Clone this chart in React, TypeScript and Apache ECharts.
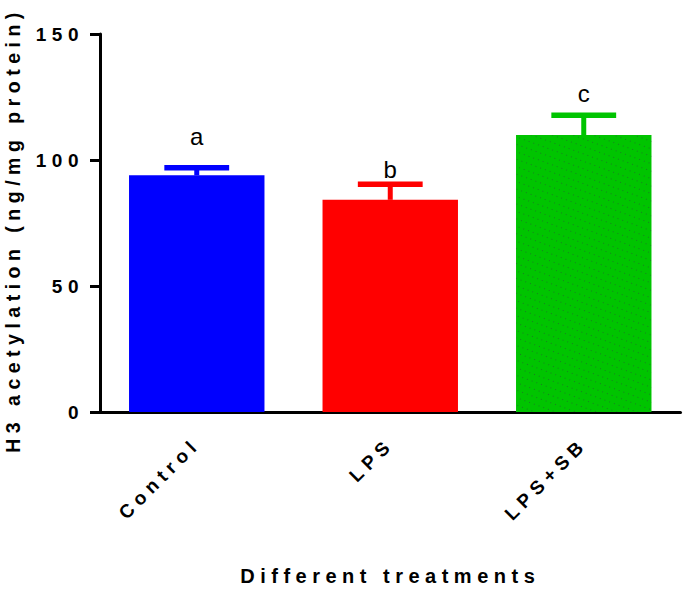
import React, { useEffect, useRef } from "react";
import * as echarts from "echarts";

const categories = ["Control", "LPS", "LPS+SB"];
const means = [93.9, 84.2, 109.9];
const errors = [3.0, 6.2, 7.9];
const letters = ["a", "b", "c"];
const letterValues = [104.5, 91.5, 121.5];
const barColors = ["#0000ff", "#ff0000", "#00c400"];
const yTicks = [0, 50, 100, 150];

const FONT = "'Liberation Sans', Arial, sans-serif";

export default function App() {
  const ref = useRef<HTMLDivElement>(null);
  useEffect(() => {
    if (!ref.current) return;
    const chart = echarts.init(ref.current, undefined, { renderer: "svg" });
    chart.setOption({
      animation: false,
      grid: { left: 100, right: 4.5, top: 34, bottom: 171, containLabel: false },
      xAxis: {
        type: "category",
        data: categories,
        name: "Different treatments",
        nameLocation: "middle",
        nameGap: 154,
        nameTextStyle: { fontFamily: FONT, fontWeight: "bold", fontSize: 20, color: "#000" },
        axisLine: { lineStyle: { color: "#000", width: 3 } },
        axisTick: { alignWithLabel: true, length: 10, lineStyle: { color: "#000", width: 3 } },
        axisLabel: {
          rotate: 45,
          margin: 29,
          fontFamily: FONT,
          fontWeight: "bold",
          fontSize: 19,
          color: "#000",
        },
      },
      yAxis: {
        type: "value",
        min: 0,
        max: 150,
        interval: 50,
        axisLine: { show: true, lineStyle: { color: "#000", width: 3 } },
        axisTick: { show: true, length: 10, lineStyle: { color: "#000", width: 3 } },
        splitLine: { show: false },
        axisLabel: {
          margin: 16,
          fontFamily: FONT,
          fontWeight: "bold",
          fontSize: 19,
          color: "#000",
          formatter: (v: number) => (yTicks.includes(v) ? String(v) : ""),
        },
      },
      graphic: [
        {
          type: "text",
          x: 13,
          y: 230,
          rotation: Math.PI / 2,
          style: {
            text: "H3 acetylation (ng/mg protein)",
            fontFamily: FONT,
            fontWeight: "bold",
            fontSize: 19.5,
            fill: "#000",
            align: "center",
            verticalAlign: "middle",
          },
        },
      ],
      series: [
        {
          type: "bar",
          data: means.map((v, i) => ({
            value: v,
            itemStyle: {
              color: barColors[i],
              decal:
                i === 2
                  ? {
                      symbol: "rect",
                      symbolSize: 1,
                      dashArrayX: [1, 4],
                      dashArrayY: [1, 6],
                      rotation: 0.35,
                      color: "rgba(70,0,90,0.35)",
                    }
                  : undefined,
            },
          })),
          barWidth: "70%",
          z: 2,
        },
        {
          type: "custom",
          z: 3,
          data: means.map((m, i) => [i, m, errors[i], letterValues[i]]),
          renderItem: (params: any, api: any) => {
            const i = params.dataIndex;
            const x = api.value(0);
            const m = api.value(1);
            const e = api.value(2);
            const lv = api.value(3);
            const base = api.coord([x, m]);
            const top = api.coord([x, m + e]);
            const lp = api.coord([x, lv]);
            const cw = api.size([1, 0])[0] * 0.335;
            const c = barColors[i];
            return {
              type: "group",
              children: [
                {
                  type: "line",
                  shape: { x1: base[0], y1: base[1], x2: top[0], y2: top[1] },
                  style: { stroke: c, lineWidth: 5 },
                },
                {
                  type: "line",
                  shape: { x1: top[0] - cw / 2, y1: top[1], x2: top[0] + cw / 2, y2: top[1] },
                  style: { stroke: c, lineWidth: 5.5 },
                },
                {
                  type: "text",
                  x: lp[0],
                  y: lp[1],
                  style: {
                    text: letters[i],
                    fontFamily: FONT,
                    fontSize: 24,
                    fill: "#000",
                    align: "center",
                    verticalAlign: "bottom",
                  },
                },
              ],
            };
          },
        },
      ],
    });
    return () => chart.dispose();
  }, []);
  return (
    <div>
      <style>{`.chart text[style*="bold"]{letter-spacing:5.5px}`}</style>
      <div
        className="chart"
        ref={ref}
        style={{ position: "absolute", left: 0, top: 0, width: 685, height: 591 }}
      />
    </div>
  );
}
